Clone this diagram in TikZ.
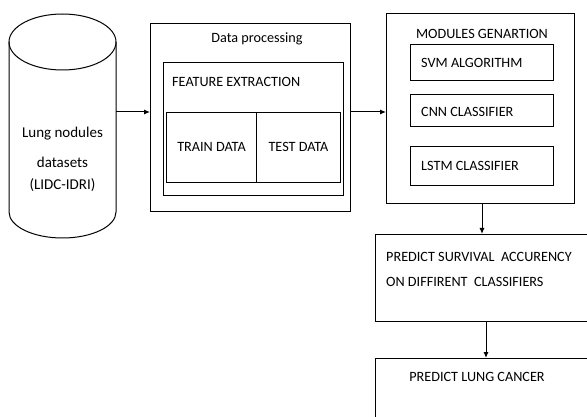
\documentclass[tikz,border=0pt]{standalone}
\usepackage{fontspec}
\setmainfont{Carlito}
\usetikzlibrary{arrows.meta}
\begin{document}
\begin{tikzpicture}[x=1pt,y=-1pt,
  box/.style={draw,line width=1.2pt},
  inbox/.style={draw,line width=1pt},
  lbl/.style={font=\fontsize{14.2}{16}\selectfont,inner sep=0pt},
  clbl/.style={font=\fontsize{15}{17}\selectfont,inner sep=0pt},
  arr/.style={-{Latex[length=6pt,width=5pt]},line width=1pt}]
\useasboundingbox (0,0) rectangle (587,417);
\clip (0,0) rectangle (587,417);
% cylinder
\coordinate (cylR) at (116,112);
\draw[line width=1pt] (9,42) -- (9,212) arc[start angle=180,end angle=0,x radius=53.5,y radius=26] -- (116,42);
\draw[line width=1pt] (62.5,42) ellipse[x radius=53.5,y radius=28];
\node[clbl] (lung1) at (62.5,134) {Lung nodules};
\node[clbl] (lung2) at (62.5,162) {datasets};
\node[clbl] (lung3) at (62.5,185) {(LIDC-IDRI)};
% data processing
\node[box,minimum width=200pt,minimum height=188pt,anchor=north west,inner sep=0pt] (dp) at (150,23) {};
\node[lbl] (dpt) at (257,39) {Data processing};
\node[inbox,minimum width=180pt,minimum height=133pt,anchor=north west,inner sep=0pt] (fe) at (163,62) {};
\node[lbl,anchor=west] (fet) at (172,82) {FEATURE EXTRACTION};
\node[inbox,minimum width=90pt,minimum height=70pt,anchor=north west,inner sep=0pt] (train) at (166,112) {};
\node[inbox,minimum width=84pt,minimum height=70pt,anchor=north west,inner sep=0pt] (test) at (256,112) {};
\node[lbl] at ([yshift=1pt]train.center) {TRAIN DATA};
\node[lbl] at ([yshift=1pt]test.center) {TEST DATA};
% modules
\node[box,minimum width=188pt,minimum height=190pt,anchor=north west,inner sep=0pt] (mod) at (386,13) {};
\node[lbl] (modt) at (482,34) {MODULES GENARTION};
\node[inbox,minimum width=143pt,minimum height=36pt,anchor=north west,inner sep=0pt] (svm) at (410,44) {};
\node[lbl,anchor=west] at (421,63) {SVM ALGORITHM};
\node[inbox,minimum width=143pt,minimum height=32pt,anchor=north west,inner sep=0pt] (cnn) at (410,94) {};
\node[lbl,anchor=west] at (421,112) {CNN CLASSIFIER};
\node[inbox,minimum width=143pt,minimum height=39pt,anchor=north west,inner sep=0pt] (lstm) at (410,146) {};
\node[lbl,anchor=west] at (421,166) {LSTM CLASSIFIER};
% predict survival
\node[box,minimum width=240pt,minimum height=87pt,anchor=north west,inner sep=0pt] (surv) at (375,234) {};
\node[lbl,anchor=west] at (386,257) {PREDICT SURVIVAL\ \ ACCURENCY};
\node[lbl,anchor=west] at (386,282) {ON DIFFIRENT\ \ CLASSIFIERS};
% predict lung cancer
\node[box,minimum width=240pt,minimum height=90pt,anchor=north west,inner sep=0pt] (lc) at (375,358) {};
\node[lbl] at (477,377) {PREDICT LUNG CANCER};
% arrows
\draw[arr] (cylR) -- (dp.west |- cylR);
\draw[arr] (dp.east |- 0,112) -- (mod.west |- 0,112);
\draw[arr] (mod.south -| 482,0) -- (surv.north -| 482,0);
\draw[arr] (surv.south -| 486,0) -- (lc.north -| 486,0);
\end{tikzpicture}
\end{document}
